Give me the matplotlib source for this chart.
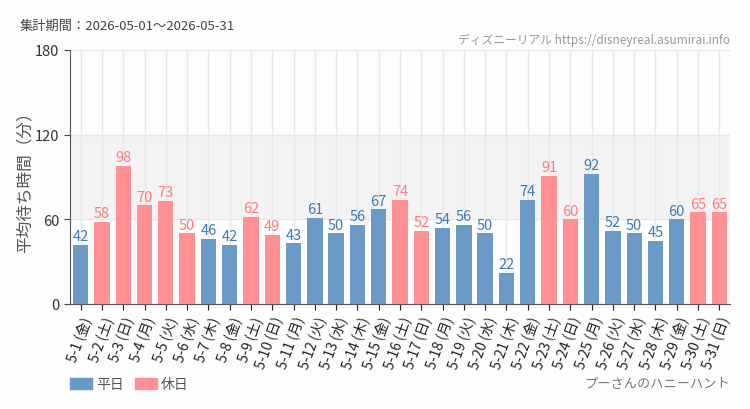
import numpy as np
import matplotlib.pyplot as plt

plt.rcParams['font.family'] = ['Noto Sans CJK JP', 'DejaVu Sans']

days = [f"5-{d}" for d in range(1, 32)]
weekdays = ["金", "土", "日", "月", "火", "水", "木"]
dow = [weekdays[i % 7] for i in range(31)]
values = [42, 58, 98, 70, 73, 50, 46, 42, 62, 49, 43, 61, 50, 56, 67, 74, 52,
          54, 56, 50, 22, 74, 91, 60, 92, 52, 50, 45, 60, 65, 65]
holiday = [0, 1, 1, 1, 1, 1, 0, 0, 1, 1, 0, 0, 0, 0, 0, 1, 1,
           0, 0, 0, 0, 0, 1, 1, 0, 0, 0, 0, 0, 1, 1]

blue = "#6b9ac7"
pink = "#ff9195"
blue_txt = "#3f7bb8"
pink_txt = "#ff7b80"

fig = plt.figure(figsize=(7.5, 4.1), dpi=100)
fig.patch.set_facecolor("#fcfdfc")
ax = fig.add_axes([70 / 750, 1 - 305 / 410, 660 / 750, 254 / 410])
ax.set_facecolor("#fcfdfc")

x = np.arange(31)
cols = [pink if h else blue for h in holiday]
ax.axhspan(60, 120, color="#f3f3f3", zorder=0)
ax.bar(x, values, width=0.72, color=cols, zorder=3)
for xi, v, h in zip(x, values, holiday):
    ax.text(xi, v + 1.2, str(v), ha="center", va="bottom", fontsize=10.5,
            color=pink_txt if h else blue_txt, zorder=4)

ax.set_xlim(-0.5, 30.5)
ax.set_ylim(0, 180)
ax.set_yticks([0, 60, 120, 180])
ax.set_xticks(x)
ax.set_xticklabels([f"{d} ({w})" for d, w in zip(days, dow)], rotation=70,
                   ha="right", rotation_mode="anchor", fontsize=10)
for lbl, h in zip(ax.get_xticklabels(), holiday):
    lbl.set_color(pink_txt if h else "#444444")
ax.tick_params(axis="y", labelsize=10.5, colors="#444444", length=4)
ax.tick_params(axis="x", length=4, colors="#222222")
for lbl in ax.get_yticklabels():
    lbl.set_color("#333333")
ax.grid(True, color="#e8e8e8", linewidth=1, zorder=1)
for s in ["top", "right"]:
    ax.spines[s].set_visible(False)
ax.spines["left"].set_color("#555555")
ax.spines["bottom"].set_color("#555555")
ax.set_ylabel("平均待ち時間（分）", fontsize=12, color="#555555")
ax.yaxis.set_label_coords(-0.056, 0.5)

fig.text(20 / 750, 1 - 26 / 410, "集計期間：2026-05-01～2026-05-31", fontsize=9.5,
         color="#444444", va="center")
fig.text(730 / 750, 1 - 40 / 410, "ディズニーリアル https://disneyreal.asumirai.info",
         fontsize=8.5, color="#999999", ha="right", va="center")
fig.text(730 / 750, 1 - 385 / 410, "プーさんのハニーハント", fontsize=9.5,
         color="#777777", ha="right", va="center")

fig.patches.append(plt.Rectangle((70 / 750, 1 - 390 / 410), 22 / 750, 11 / 410,
                                 transform=fig.transFigure, color=blue))
fig.text(96 / 750, 1 - 385 / 410, "平日", fontsize=10, color="#555555", va="center")
fig.patches.append(plt.Rectangle((135 / 750, 1 - 390 / 410), 22 / 750, 11 / 410,
                                 transform=fig.transFigure, color=pink))
fig.text(161 / 750, 1 - 385 / 410, "休日", fontsize=10, color="#555555", va="center")

fig.savefig("out.png", dpi=100, facecolor=fig.get_facecolor())
